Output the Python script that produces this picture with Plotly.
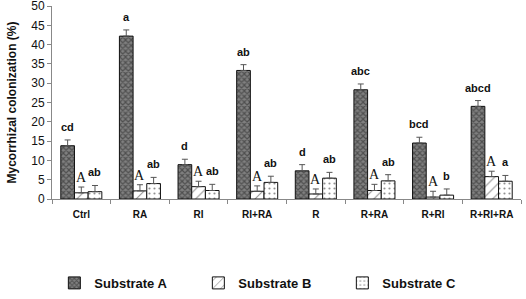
import plotly.graph_objects as go

categories = ["Ctrl", "RA", "RI", "RI+RA", "R", "R+RA", "R+RI", "R+RI+RA"]
sub_a = [13.8, 42.2, 8.9, 33.3, 7.3, 28.3, 14.5, 24.0]
sub_a_err = [1.5, 1.6, 1.4, 1.5, 1.6, 1.5, 1.5, 1.5]
sub_b = [1.6, 2.1, 3.2, 2.0, 1.3, 2.2, 0.5, 5.8]
sub_b_err = [1.5, 1.6, 1.4, 1.4, 1.3, 1.6, 1.5, 1.4]
sub_c = [1.9, 4.0, 2.2, 4.3, 5.4, 4.7, 1.0, 4.6]
sub_c_err = [1.6, 1.6, 1.6, 1.6, 1.5, 1.6, 1.6, 1.5]
labels_a = ["cd", "a", "d", "ab", "d", "abc", "bcd", "abcd"]
labels_b = ["A"] * 8
labels_c = ["ab", "ab", "ab", "ab", "ab", "ab", "b", "a"]
series_names = ["Substrate A", "Substrate B", "Substrate C"]
y_ticks = [0, 5, 10, 15, 20, 25, 30, 35, 40, 45, 50]

fig = go.Figure()
styles = [
    dict(shape="x", fgcolor="#1e1e1e", bgcolor="#808080", size=4, solidity=0.5),
    dict(shape="/", fgcolor="#222222", bgcolor="white", size=7, solidity=0.15),
    dict(shape=".", fgcolor="#222222", bgcolor="white", size=5, solidity=0.15),
]
for name, vals, errs, st in zip(series_names, [sub_a, sub_b, sub_c],
                                [sub_a_err, sub_b_err, sub_c_err], styles):
    fig.add_trace(go.Bar(
        name=name, x=categories, y=vals,
        marker=dict(color="white", line=dict(color="#111111", width=1), pattern=st),
        error_y=dict(type="data", array=errs, arrayminus=[0] * len(errs),
                     symmetric=False, color="#555555", thickness=1, width=3),
    ))

bar_w = 0.7 / 3
offsets = [-bar_w, 0, bar_w]
for s, (vals, errs, labs) in enumerate([(sub_a, sub_a_err, labels_a),
                                        (sub_b, sub_b_err, labels_b),
                                        (sub_c, sub_c_err, labels_c)]):
    for i, (v, e, t) in enumerate(zip(vals, errs, labs)):
        if s == 1:
            font = dict(family="Liberation Serif", size=14, color="#111111")
            ys = 0
        else:
            font = dict(family="Liberation Sans", size=11, color="#111111")
            ys = 5
        fig.add_annotation(x=i + offsets[s], y=v + e, xref="x", yref="y",
                           text=f"<b>{t}</b>" if s != 1 else t,
                           showarrow=False, yanchor="bottom", yshift=ys, font=font)

fig.update_layout(
    width=526, height=299,
    margin=dict(l=52, r=5, t=6, b=100, autoexpand=False),
    paper_bgcolor="white", plot_bgcolor="white",
    barmode="group", bargap=0.3, bargroupgap=0,
    font=dict(family="Liberation Sans", color="#111111"),
    legend=dict(orientation="h", x=0.005, xanchor="left", y=-0.435, yanchor="middle",
                font=dict(size=13, family="Liberation Sans", weight="bold"),
                entrywidth=99, entrywidthmode="pixels", itemwidth=30,
                traceorder="normal"),
    xaxis=dict(showline=True, linecolor="#888888", linewidth=1,
               ticks="outside", tickson="boundaries", ticklen=4, tickcolor="#888888",
               ticklabelstandoff=6,
               tickfont=dict(size=10, family="Liberation Sans", weight="bold"),
               showgrid=False, range=[-0.5, 7.5]),
    yaxis=dict(range=[0, 50], tickmode="array", tickvals=y_ticks,
               showline=True, linecolor="#888888", linewidth=1,
               ticks="outside", ticklen=4, tickcolor="#888888", showgrid=False,
               zeroline=False, ticklabeloverflow="allow",
               tickfont=dict(size=12, family="Liberation Sans"),
               title=dict(text="<b>Mycorrhizal colonization (%)</b>", standoff=12,
                          font=dict(size=12, family="Liberation Sans"))),
)

fig.write_html("out.html", config={"displayModeBar": False},
               post_script="document.body.style.margin='0px';")
